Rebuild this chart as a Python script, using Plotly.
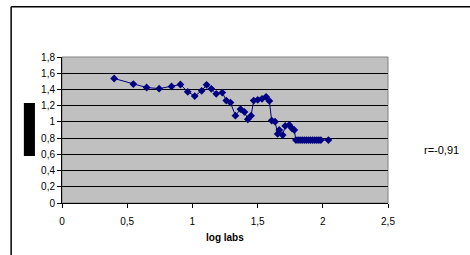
import plotly.graph_objects as go

log_labs = [0.40, 0.547, 0.649, 0.745, 0.84, 0.908, 0.964, 1.018, 1.071, 1.109, 1.145, 1.183,
            1.229, 1.26, 1.292, 1.33, 1.369, 1.399, 1.425, 1.450, 1.470, 1.501, 1.534, 1.565,
            1.590, 1.608, 1.634, 1.654, 1.666, 1.692, 1.712, 1.743, 1.763, 1.781,
            1.794, 1.81, 1.826, 1.842, 1.858, 1.874, 1.89, 1.906, 1.922, 1.938, 1.954, 1.97,
            1.985, 2.043]
values = [1.535, 1.466, 1.424, 1.41, 1.437, 1.461, 1.371, 1.318, 1.383, 1.457, 1.408, 1.346,
          1.362, 1.263, 1.238, 1.077, 1.157, 1.123, 1.032, 1.077, 1.263, 1.272, 1.284, 1.309,
          1.259, 1.016, 1.003, 0.851, 0.90, 0.838, 0.95, 0.962, 0.921, 0.90,
          0.776, 0.776, 0.776, 0.776, 0.776, 0.776, 0.776, 0.776, 0.776, 0.776, 0.776, 0.776,
          0.776, 0.776]

fig = go.Figure(go.Scatter(
    x=log_labs, y=values, mode="lines+markers",
    line=dict(color="#000080", width=1),
    marker=dict(symbol="diamond", size=6, color="#000080"),
    showlegend=False,
))

axis_font = dict(family="Liberation Sans, Arial, sans-serif", size=10, color="black")

fig.update_layout(
    width=470, height=255,
    margin=dict(l=62, r=82, t=57, b=52),
    paper_bgcolor="white",
    plot_bgcolor="#C0C0C0",
    separators=", ",
    xaxis=dict(range=[0, 2.5], dtick=0.5, tick0=0, showgrid=False, zeroline=False,
               showline=True, linecolor="black", linewidth=1,
               ticks="outside", ticklen=4, tickcolor="black", tickfont=axis_font,
               ticklabelstandoff=5),
    yaxis=dict(range=[0, 1.8], dtick=0.2, tick0=0, showgrid=True, gridcolor="black",
               gridwidth=1, zeroline=False, showline=True, linecolor="black", linewidth=1,
               ticks="outside", ticklen=4, tickcolor="black", tickfont=axis_font),
    shapes=[
        dict(type="rect", xref="paper", yref="paper", x0=0, x1=1, y0=0, y1=1,
             line=dict(color="#808080", width=1), layer="below"),
        dict(type="line", xref="paper", yref="paper", x0=-0.156, x1=1.3, y0=1.345, y1=1.345,
             line=dict(color="black", width=1.5)),
        dict(type="line", xref="paper", yref="paper", x0=-0.156, x1=-0.156, y0=-0.4, y1=1.345,
             line=dict(color="black", width=1.5)),
        dict(type="rect", xref="paper", yref="paper", x0=-0.117, x1=-0.083, y0=0.322, y1=0.685,
             fillcolor="black", line=dict(width=0)),
    ],
    annotations=[
        dict(text="log labs", xref="paper", yref="paper", x=0.5, y=-0.233,
             xanchor="center", yanchor="middle",
             showarrow=False, font=dict(family="Liberation Sans, Arial, sans-serif",
                                        size=10, color="black", weight="bold")),
        dict(text="r=-0,91", xref="paper", yref="paper", x=1.163, y=0.363,
             xanchor="center", yanchor="middle",
             showarrow=False, font=dict(family="Liberation Sans, Arial, sans-serif",
                                        size=11, color="black")),
    ],
)

fig.write_html("out.html", config={"displayModeBar": False},
               post_script="document.body.style.margin='0px';document.body.style.overflow='hidden';")
